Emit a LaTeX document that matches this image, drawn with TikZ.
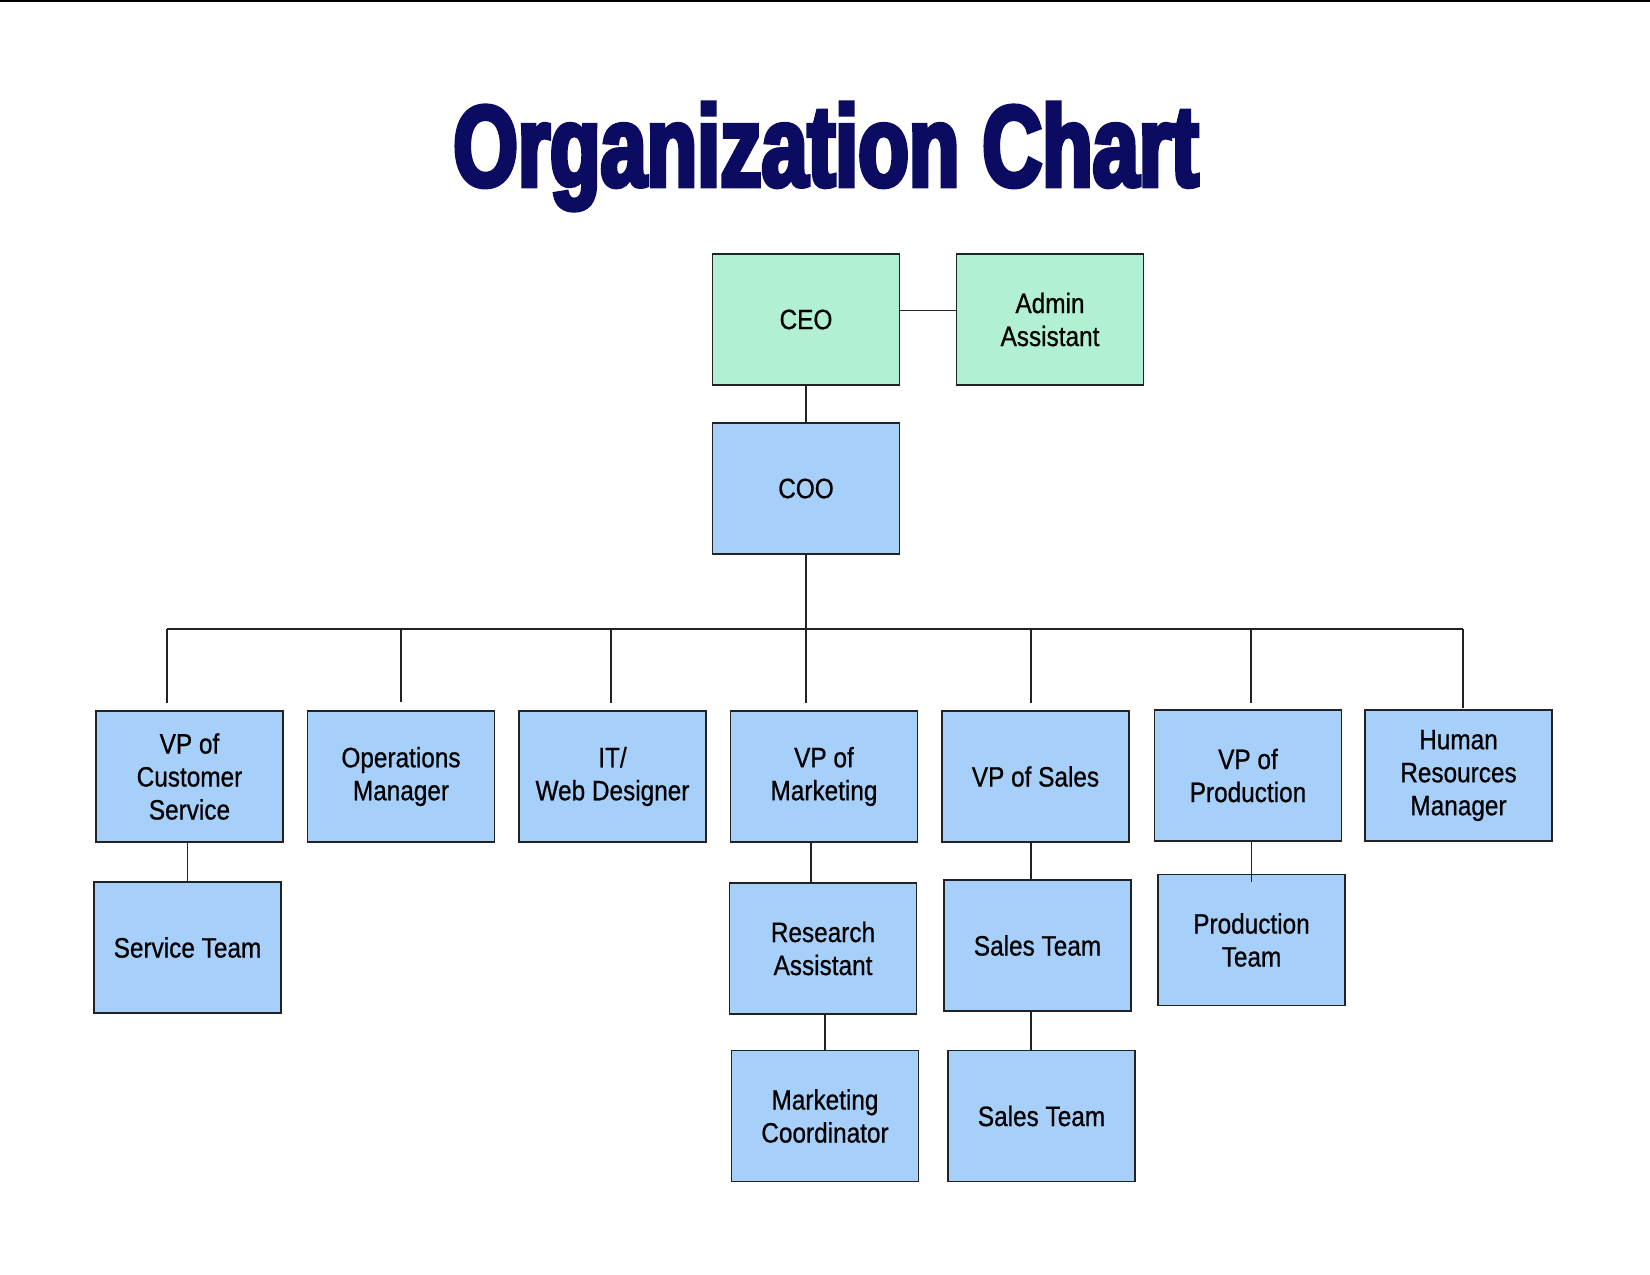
\documentclass[tikz,border=0pt]{standalone}
\usepackage{fontspec}
\setmainfont{Liberation Sans}[FakeStretch=0.87, FakeBold=0.7]
\newfontfamily\titlefont{Liberation Sans}[FakeStretch=0.72, BoldFeatures={FakeBold=4}]
\definecolor{navy}{HTML}{0B0B62}
\definecolor{mint}{HTML}{B2F0D4}
\definecolor{sky}{HTML}{A6CFFA}
\definecolor{edge}{HTML}{222222}
\tikzset{
  orgbox/.style={draw=edge, line width=1.9pt, minimum width=187pt, minimum height=131pt,
    inner sep=2pt, align=center, font=\fontsize{28}{33}\selectfont, text=black},
  greenbox/.style={orgbox, fill=mint},
  bluebox/.style={orgbox, fill=sky},
  link/.style={draw=edge, line width=1.7pt}
}
\begin{document}
\begin{tikzpicture}[x=1pt,y=-1pt]
\useasboundingbox (0,0) rectangle (1650,1275);
\fill[white] (0,0) rectangle (1650,1275);
\draw[line width=2pt, black] (0,1) -- (1650,1);
\node[anchor=base, text=navy, inner sep=0pt] (title) at (826,186)
  {\titlefont\bfseries\fontsize{115}{120}\selectfont Organization Chart};

\node[greenbox] (ceo) at (806,319.5) {CEO};
\node[greenbox] (admin) at (1050,319.5) {Admin\\Assistant};
\node[bluebox] (coo) at (806,488.5) {COO};

\node[bluebox] (vpcs) at (189.5,776.5) {VP of\\Customer\\Service};
\node[bluebox] (ops) at (401,776.5) {Operations\\Manager};
\node[bluebox] (it) at (612.5,776.5) {IT/\\Web Designer};
\node[bluebox] (vpm) at (824,776.5) {VP of\\Marketing};
\node[bluebox] (vps) at (1035.5,776.5) {VP of Sales};
\node[bluebox] (vpp) at (1248,775.5) {VP of\\Production};
\node[bluebox] (hr) at (1458.5,775.5) {Human\\Resources\\Manager};

\node[bluebox] (svc) at (187.5,947.5) {Service Team};
\node[bluebox] (ra) at (823,948.5) {Research\\Assistant};
\node[bluebox] (st1) at (1037.5,945.5) {Sales Team};
\node[bluebox] (pt) at (1251.5,940) {Production\\Team};
\node[bluebox] (mc) at (825,1116) {Marketing\\Coordinator};
\node[bluebox] (st2) at (1041.5,1116) {Sales Team};

% top connectors
\draw[link] (ceo.east) ++(0,-9) coordinate (ceoR) -- (ceoR -| admin.west);
\draw[link] (ceo.south) -- (coo.north);

% bus
\coordinate (busL) at (167,629);
\coordinate (busR) at (1463,629);
\draw[link] (busL) -- (busR);
\draw[link] (coo.south) -- (coo.south |- busL);
\draw[link] (busL) -- (167,703);
\draw[link] (ops.north |- busL) -- ([yshift=8pt]ops.north);
\draw[link] (611,629) -- (611,703);
\draw[link] (806,629) -- (806,703);
\draw[link] (1031,629) -- (1031,703);
\draw[link] (1251,629) -- (1251,703);
\draw[link] (busR) -- (1463,708);

% children
\draw[link] (svc.north) -- (svc.north |- vpcs.south);
\draw[link] ([xshift=-12pt]ra.north) -- ([xshift=-12pt]ra.north |- vpm.south);
\draw[link] (mc.north) -- (mc.north |- ra.south);
\draw[link] ([xshift=-6.5pt]st1.north) -- ([xshift=-6.5pt]st1.north |- vps.south);
\draw[link] ([xshift=-10.5pt]st2.north) -- ([xshift=-10.5pt]st2.north |- st1.south);
\draw[link] (pt.north |- vpp.south) -- ([yshift=-8pt]pt.north);
\end{tikzpicture}
\end{document}
